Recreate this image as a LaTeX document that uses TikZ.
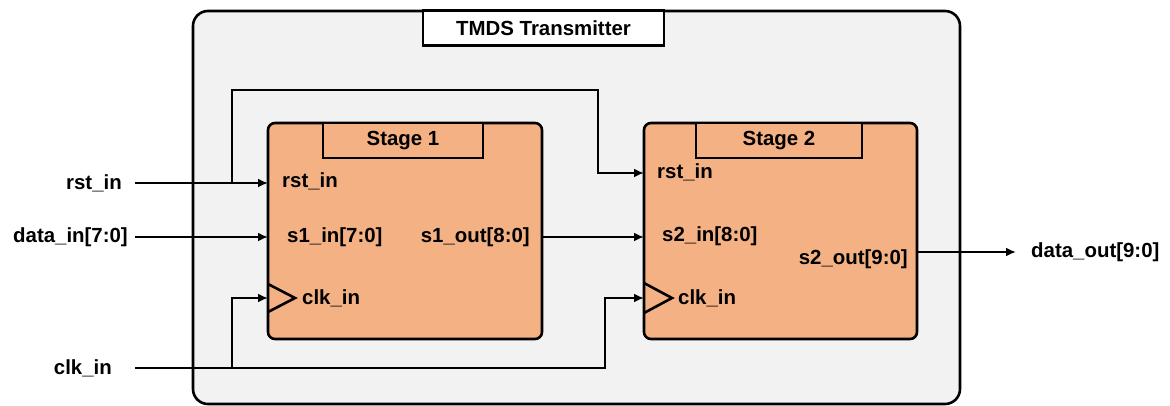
\documentclass[tikz,border=0pt]{standalone}
\usepackage{fontspec}
\setmainfont{Liberation Sans}
\usepackage{xcolor}
\usetikzlibrary{arrows,arrows.meta,shapes,backgrounds}

\definecolor{shellcol}{HTML}{F2F2F2}
\definecolor{stagecol}{HTML}{F4B183}

\begin{document}
\begin{tikzpicture}[>={Latex[length=10bp,width=9bp]},line join=miter,x=1bp,y=-1bp,
  shell/.style={draw,fill=shellcol,rounded corners=15bp,line width=2.6bp,inner sep=0pt},
  stage/.style={draw,fill=stagecol,rounded corners=7bp,line width=2.6bp,inner sep=0pt,
    minimum height=216bp},
  tab/.style={draw,line width=2.6bp,inner sep=0pt,minimum height=35bp,
    font=\bfseries\fontsize{20.5}{22}\selectfont},
  sig/.style={inner sep=0pt,font=\bfseries\fontsize{20.5}{22}\selectfont},
  wire/.style={line width=2.4bp}]
\useasboundingbox (0,0) rectangle (1170,405);
%%
  % Node: tmds
  \node[shell,minimum width=767bp,minimum height=393bp] (tmds) at (576.5,207.5) {};
  \node[tab,fill=white,minimum width=241bp] (tmdsTitle) at (543.5,28) {TMDS Transmitter};
  % Node: stage1
  \node[stage,minimum width=274bp] (stage1) at (405,231) {};
  \node[tab,fill=stagecol,minimum width=160bp] (stage1Title) at (403,140.5) {Stage 1};
  % Node: stage2
  \node[stage,minimum width=273bp] (stage2) at (780.5,231) {};
  \node[tab,fill=stagecol,minimum width=166bp] (stage2Title) at (779,140.5) {Stage 2};
%%
  % Ports
  \coordinate (s1rst) at (268,183);
  \coordinate (s1in) at (268,237);
  \coordinate (s1clk) at (268,298);
  \coordinate (s1out) at (542,237);
  \coordinate (s2rst) at (644,173);
  \coordinate (s2in) at (644,237);
  \coordinate (s2clk) at (644,298);
  \coordinate (s2out) at (917,252);
  % Port labels
  \node[sig,anchor=west] (s1rstL) at (282,181) {rst\_in};
  \node[sig,anchor=west] (s1inL) at (287,237) {s1\_in[7:0]};
  \node[sig,anchor=east] (s1outL) at (530,237) {s1\_out[8:0]};
  \node[sig,anchor=west] (s1clkL) at (302,298) {clk\_in};
  \node[sig,anchor=west] (s2rstL) at (657,172) {rst\_in};
  \node[sig,anchor=west] (s2inL) at (662,236) {s2\_in[8:0]};
  \node[sig,anchor=east] (s2outL) at (908,259) {s2\_out[9:0]};
  \node[sig,anchor=west] (s2clkL) at (678,298) {clk\_in};
  % Clock marks
  \draw[line width=2.6bp] ([yshift=-14bp]s1clk) -- ([xshift=27bp]s1clk) -- ([yshift=14bp]s1clk);
  \draw[line width=2.6bp] ([yshift=-15bp]s2clk) -- ([xshift=28bp]s2clk) -- ([yshift=15bp]s2clk);
%%
  % Top level pins
  \node[sig,anchor=east] (rstIn) at (122,183) {rst\_in};
  \node[sig,anchor=east] (dataIn) at (128,237) {data\_in[7:0]};
  \node[sig,anchor=east] (clkIn) at (112,368) {clk\_in};
  \node[sig,anchor=west] (dataOut) at (1031,252) {data\_out[9:0]};
  \coordinate (rstP) at (135,183);
  \coordinate (dataP) at (135,237);
  \coordinate (clkP) at (135,368);
  \coordinate (outP) at (1016,252);
  \coordinate (rstJ) at (232,183);
  \coordinate (rstBus) at (598,90);
  \coordinate (clkJ) at (232,368);
  \coordinate (clkBus) at (605,368);
%%
  % Edge: rst_in -> stage1, stage2
  \draw[wire,->] (rstP) -- (s1rst);
  \draw[wire,->] (rstJ) |- (rstBus) |- (s2rst);
  % Edge: data_in -> stage1
  \draw[wire,->] (dataP) -- (s1in);
  % Edge: stage1 -> stage2
  \draw[wire,->] (s1out) -- (s2in);
  % Edge: clk_in -> stage1, stage2
  \draw[wire,->] (clkP) -- (clkBus) |- (s2clk);
  \draw[wire,->] (clkJ) |- (s1clk);
  % Edge: stage2 -> data_out
  \draw[wire,->] (s2out) -- (outP);
%
\end{tikzpicture}
\end{document}
